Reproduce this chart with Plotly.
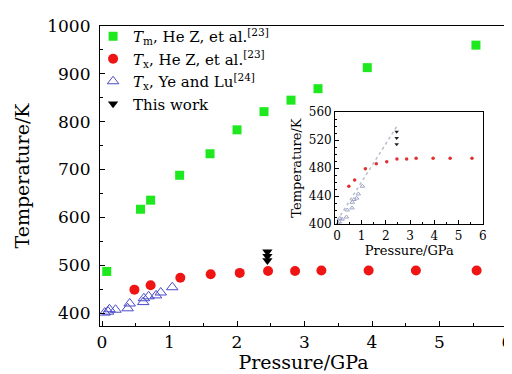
import plotly.graph_objects as go

# ---- data ----
tm_p = [0.07, 0.57, 0.72, 1.15, 1.60, 2.00, 2.40, 2.80, 3.20, 3.93, 5.54]
tm_T = [487, 617, 636, 688, 733, 783, 821, 845, 869, 913, 960]

tx_p = [0.48, 0.72, 1.16, 1.61, 2.04, 2.46, 2.86, 3.25, 3.95, 4.65, 5.55]
tx_T = [449, 458, 474, 481, 484, 488, 488, 489, 489, 489, 489]

ye_p = [0.04, 0.09, 0.11, 0.20, 0.38, 0.41, 0.61, 0.62, 0.69, 0.80, 0.87, 1.04]
ye_T = [401, 403, 408, 407, 410, 420, 423, 431, 435, 437, 443, 454]

this_p = [2.45, 2.45, 2.45]
this_T = [528, 519, 510]

# inset extension of Ye and Lu trend (dotted in inset)
ye_fit_p = [0.0, 2.5]
ye_fit_T = [405, 542]

FONT = "DejaVu Serif"

fig = go.Figure()

# main traces
fig.add_trace(go.Scatter(x=tm_p, y=tm_T, mode="markers",
                         marker=dict(symbol="square", size=9, color="#1ee81e"),
                         name="<i>T</i><sub>m</sub>, He Z, et al.<sup>[23]</sup>"))
fig.add_trace(go.Scatter(x=tx_p, y=tx_T, mode="markers",
                         marker=dict(symbol="circle", size=10, color="#f01515"),
                         name="<i>T</i><sub>x</sub>, He Z, et al.<sup>[23]</sup>"))
fig.add_trace(go.Scatter(x=ye_p, y=ye_T, mode="markers",
                         marker=dict(symbol="triangle-up-open", size=10, color="#4a4ac8",
                                     line=dict(width=1)),
                         name="<i>T</i><sub>x</sub>, Ye and Lu<sup>[24]</sup>"))
fig.add_trace(go.Scatter(x=this_p, y=this_T, mode="markers",
                         marker=dict(symbol="triangle-down", size=9, color="black"),
                         name="This work<sup> </sup><sub> </sub>"))

# inset traces
fig.add_trace(go.Scatter(x=ye_fit_p, y=ye_fit_T, mode="lines", xaxis="x2", yaxis="y2",
                         line=dict(color="#b8bfcc", width=1.5, dash="dot"), showlegend=False))
fig.add_trace(go.Scatter(x=ye_p, y=ye_T, mode="markers", xaxis="x2", yaxis="y2",
                         marker=dict(symbol="triangle-up-open", size=4, color="#a0a6c8"),
                         showlegend=False))
fig.add_trace(go.Scatter(x=tx_p, y=[t + 5 for t in tx_T], mode="markers", xaxis="x2", yaxis="y2",
                         marker=dict(symbol="circle", size=3.5, color="#e03030"),
                         showlegend=False))
fig.add_trace(go.Scatter(x=this_p, y=[t + 4 for t in this_T], mode="markers", xaxis="x2", yaxis="y2",
                         marker=dict(symbol="triangle-down", size=4, color="#202020"),
                         showlegend=False))

axis_common = dict(showline=True, linecolor="black", linewidth=1.2, mirror=True,
                   ticks="inside", tickcolor="black", showgrid=False, zeroline=False)

fig.update_layout(
    width=512, height=374,
    margin=dict(l=92, r=8, t=15, b=56),
    paper_bgcolor="white", plot_bgcolor="white",
    font=dict(family=FONT, size=16, color="black"),
    showlegend=True,
    legend=dict(x=-0.017, y=1.02, xanchor="left", yanchor="top",
                bgcolor="rgba(0,0,0,0)", font=dict(family=FONT, size=15),
                itemwidth=30, tracegroupgap=0),
    xaxis=dict(**axis_common, range=[-0.03, 6.0], dtick=1, tick0=0, ticklen=5,
               minor=dict(dtick=0.5, ticks="inside", ticklen=3, tickcolor="black"),
               tickfont=dict(size=17), ticklabeloverflow="allow",
               title=dict(text="Pressure/GPa", font=dict(size=19), standoff=4)),
    yaxis=dict(**axis_common, range=[373, 1000], dtick=100, tick0=400, ticklen=5,
               minor=dict(dtick=50, ticks="inside", ticklen=3, tickcolor="black"),
               tickfont=dict(size=17), ticklabelstandoff=5,
               title=dict(text="Temperature/K", font=dict(size=19), standoff=12)),
    xaxis2=dict(**axis_common, domain=[0.578, 0.942], anchor="y2", range=[-0.08, 6.02],
                dtick=1, tick0=0, ticklen=4,
                minor=dict(dtick=0.5, ticks="inside", ticklen=2, tickcolor="black"),
                tickfont=dict(size=12),
                title=dict(text="Pressure/GPa", font=dict(size=13), standoff=4)),
    yaxis2=dict(**axis_common, domain=[0.340, 0.713], anchor="x2", range=[400, 560],
                dtick=40, tick0=400, ticklen=4,
                minor=dict(dtick=10, ticks="inside", ticklen=2, tickcolor="black"),
                tickfont=dict(size=12),
                title=dict(text="Temperature/K", font=dict(size=13), standoff=4)),
    shapes=[dict(type="rect", xref="x2 domain", yref="y2 domain", x0=0, x1=1, y0=0, y1=1,
                 fillcolor="#f3f7fb", line=dict(width=0), layer="below")],
)

fig.write_html("out.html")
